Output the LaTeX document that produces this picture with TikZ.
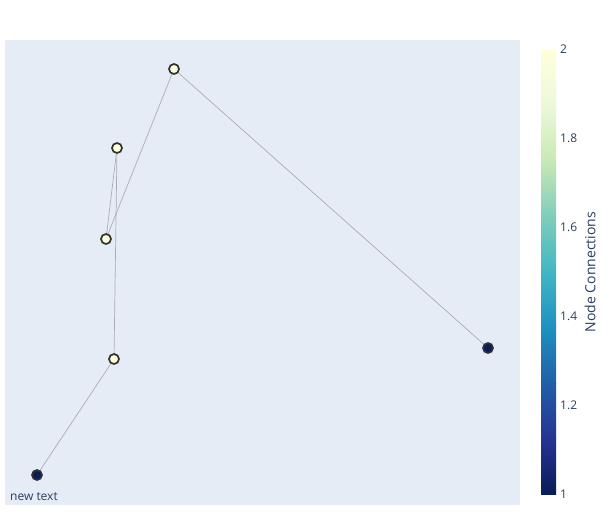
\documentclass[tikz,border=0pt]{standalone}
\usepackage{fontspec}
\setmainfont{Open Sans}
\definecolor{plotbg}{HTML}{E5ECF6}
\definecolor{txt}{HTML}{2A3F5F}
\definecolor{edgec}{HTML}{ABADB5}
\definecolor{rimc}{RGB}{50,50,50}
\definecolor{cA}{RGB}{8,29,88}
\definecolor{cB}{RGB}{37,52,148}
\definecolor{cC}{RGB}{34,94,168}
\definecolor{cD}{RGB}{29,145,192}
\definecolor{cE}{RGB}{65,182,196}
\definecolor{cF}{RGB}{127,205,187}
\definecolor{cG}{RGB}{199,233,180}
\definecolor{cH}{RGB}{237,248,217}
\definecolor{cI}{RGB}{255,255,217}
\pgfdeclarelayer{bg}
\pgfsetlayers{bg,main}
\begin{document}
\begin{tikzpicture}[x=1pt,y=-1pt,
  dot/.style={circle,draw=rimc,line width=1.7pt,minimum size=10pt,inner sep=0pt},
  hi/.style={dot,fill=cI},
  lo/.style={dot,fill=cA},
  link/.style={draw=edgec,line width=0.7pt},
  tick/.style={font=\fontsize{12pt}{14pt}\selectfont,text=txt,anchor=west,inner sep=0pt}]
\useasboundingbox (0,0) rectangle (613,525);
\begin{pgfonlayer}{bg}
\fill[white] (0,0) rectangle (613,525);
\fill[plotbg] (5,40) rectangle (520,505);
\end{pgfonlayer}
% colorbar
\foreach \i/\ct/\cb in {0/cI/cH,1/cH/cG,2/cG/cF,3/cF/cE,4/cE/cD,5/cD/cC,6/cC/cB,7/cB/cA}{
  \shade[top color=\ct,bottom color=\cb] (541,{50+55.5*\i}) rectangle (556,{50+55.5*(\i+1)+0.3});
}
\node[tick] (t20) at (560,49) {2};
\node[tick] (t18) at (560,138) {1.8};
\node[tick] (t16) at (560,227) {1.6};
\node[tick] (t14) at (560,316) {1.4};
\node[tick] (t12) at (560,405) {1.2};
\node[tick] (t10) at (560,494) {1};
\node[rotate=90,font=\fontsize{14pt}{16pt}\selectfont,text=txt,inner sep=0pt] (cbt) at (590,272) {Node Connections};
% nodes
\node[hi] (a) at (174,69) {};
\node[hi] (b) at (117,148) {};
\node[hi] (c) at (106,239) {};
\node[hi] (d) at (114,359) {};
\node[lo] (e) at (37,475) {};
\node[lo] (f) at (488,348) {};
\begin{pgfonlayer}{bg}
\path[link] (a.center) -- (f.center);
\path[link] (a.center) -- (c.center);
\path[link] (b.center) -- (c.center);
\path[link] (b.center) -- (d.center);
\path[link] (d.center) -- (e.center);
\end{pgfonlayer}
\node[font=\fontsize{12pt}{14pt}\selectfont,text=txt,anchor=west,inner sep=0pt] (note) at (10,497) {new text};
\end{tikzpicture}
\end{document}
